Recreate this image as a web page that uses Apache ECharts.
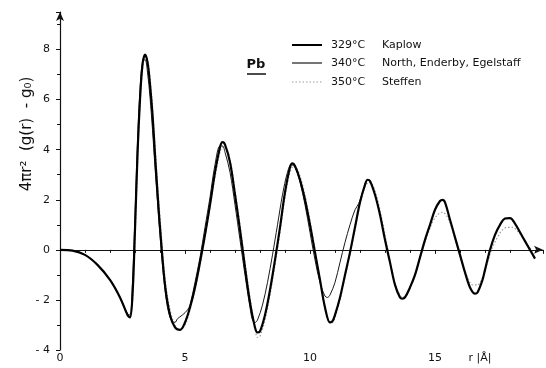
<!DOCTYPE html>
<html>
<head>
<meta charset="utf-8">
<script src="https://cdn.jsdelivr.net/npm/echarts@6/dist/echarts.min.js"></script>
<style>
html,body{margin:0;padding:0;background:#fff;}
#c{width:546px;height:368px;}
</style>
</head>
<body>
<div id="c"></div>
<script>
// ---- data ----
const seriesTemps = ['329°C', '340°C', '350°C'];
const seriesAuthors = ['Kaplow', 'North, Enderby, Egelstaff', 'Steffen'];

const kaplowR = [0,0.5,1.0,1.5,2.0,2.4,2.7,2.8,2.9,3.0,3.1,3.2,3.3,3.4,3.5,3.6,3.7,3.8,3.9,4.0,4.2,4.4,4.6,4.8,5.0,5.2,5.4,5.6,5.8,6.0,6.2,6.4,6.5,6.6,6.8,7.0,7.2,7.4,7.6,7.8,7.9,8.0,8.2,8.4,8.6,8.8,9.0,9.2,9.3,9.4,9.6,9.8,10.0,10.2,10.4,10.6,10.8,10.9,11.0,11.2,11.4,11.6,11.8,12.0,12.2,12.3,12.4,12.6,12.8,13.0,13.2,13.4,13.6,13.7,13.8,14.0,14.2,14.4,14.6,14.8,15.0,15.2,15.3,15.4,15.6,15.8,16.0,16.2,16.4,16.6,16.7,16.9,17.0,17.2,17.4,17.6,17.8,18.0,18.2,18.4,18.6,18.8,19.0];
const kaplowG = [0,-0.03,-0.2,-0.6,-1.2,-1.9,-2.6,-2.7,-1.8,0.8,3.8,6.0,7.4,7.8,7.5,6.6,5.4,3.8,2.3,0.9,-1.4,-2.6,-3.1,-3.2,-2.9,-2.3,-1.5,-0.5,0.6,1.8,3.1,4.1,4.3,4.2,3.5,2.2,0.8,-0.7,-2.1,-3.1,-3.3,-3.25,-2.6,-1.6,-0.4,0.9,2.3,3.3,3.45,3.35,2.8,2.0,1.0,-0.1,-1.2,-2.3,-2.9,-2.85,-2.6,-1.9,-1.0,-0.1,0.9,1.9,2.6,2.8,2.75,2.2,1.4,0.4,-0.5,-1.4,-1.9,-1.95,-1.9,-1.5,-1.0,-0.3,0.4,1.0,1.6,1.95,2.0,1.9,1.2,0.5,-0.2,-0.9,-1.5,-1.75,-1.7,-1.2,-0.8,0.0,0.6,1.0,1.25,1.27,1.05,0.7,0.35,0.0,-0.35];

const northR = [0,0.5,1.0,1.5,2.0,2.4,2.7,2.8,2.9,3.0,3.1,3.2,3.3,3.4,3.5,3.6,3.7,3.8,3.9,4.0,4.2,4.4,4.6,4.7,4.9,5.1,5.2,5.4,5.6,5.8,6.0,6.2,6.4,6.5,6.6,6.8,7.0,7.2,7.4,7.6,7.7,7.8,7.9,8.1,8.3,8.5,8.7,8.9,9.1,9.25,9.4,9.6,9.8,10.0,10.2,10.4,10.6,10.7,10.8,11.0,11.2,11.4,11.6,11.8,11.95,12.1];
const northG = [0,-0.03,-0.2,-0.6,-1.2,-1.9,-2.55,-2.6,-1.3,1.4,4.3,6.4,7.5,7.6,7.1,6.1,4.8,3.3,1.9,0.6,-1.6,-2.7,-2.9,-2.75,-2.6,-2.4,-2.2,-1.3,-0.3,0.9,2.1,3.4,4.15,4.15,3.9,3.1,1.8,0.4,-1.0,-2.3,-2.8,-2.9,-2.8,-2.2,-1.3,-0.2,1.0,2.2,3.1,3.4,3.3,2.7,1.8,0.7,-0.4,-1.3,-1.85,-1.9,-1.8,-1.3,-0.5,0.3,1.0,1.6,1.85,2.3];

const steffenR = [0,0.5,1.0,1.5,2.0,2.4,2.7,2.8,2.9,3.0,3.1,3.2,3.3,3.4,3.5,3.6,3.7,3.8,3.9,4.0,4.2,4.4,4.6,4.8,5.0,5.2,5.4,5.6,5.8,6.0,6.2,6.4,6.5,6.6,6.8,7.0,7.2,7.4,7.6,7.8,7.9,8.0,8.2,8.4,8.6,8.8,9.0,9.2,9.35,9.5,9.7,9.9,10.1,10.3,10.5,10.7,10.85,11.0,11.2,11.4,11.6,11.8,12.0,12.2,12.35,12.5,12.7,12.9,13.1,13.3,13.5,13.7,13.9,14.1,14.3,14.5,14.7,14.9,15.1,15.3,15.5,15.7,15.9,16.1,16.3,16.5,16.7,16.9,17.1,17.3,17.5,17.7,17.9,18.1,18.3,18.5,18.7,18.9,19.0];
const steffenG = [0,-0.03,-0.2,-0.6,-1.2,-1.9,-2.6,-2.7,-2.0,0.4,3.4,5.7,7.2,7.7,7.6,6.9,5.7,4.2,2.7,1.3,-1.1,-2.4,-3.0,-3.2,-3.0,-2.4,-1.6,-0.6,0.5,1.7,2.9,3.9,4.1,4.1,3.6,2.4,1.0,-0.5,-1.9,-3.1,-3.5,-3.45,-2.8,-1.8,-0.6,0.7,2.1,3.1,3.35,3.2,2.6,1.7,0.6,-0.6,-1.8,-2.7,-2.95,-2.7,-2.0,-1.1,-0.2,0.8,1.8,2.5,2.7,2.6,2.0,1.1,0.1,-0.9,-1.6,-1.9,-1.75,-1.3,-0.7,0.0,0.6,1.1,1.4,1.5,1.3,0.8,0.1,-0.6,-1.1,-1.4,-1.4,-1.1,-0.5,0.1,0.5,0.8,0.9,0.9,0.75,0.5,0.2,-0.1,-0.3];

const xTicks = [0, 5, 10, 15];
const yTicks = [-4, -2, 0, 2, 4, 6, 8];
const xAxisTitle = 'r |Å|';
const yAxisTitle = '4πr²  (g(r)  - g₀)';
const elementLabel = 'Pb';

// ---- build ----
function pairs(r, g) { return r.map((v, i) => [v, g[i]]); }

const chart = echarts.init(document.getElementById('c'), null, {renderer: 'canvas'});
const font = 'DejaVu Sans';
const axisCommon = {
  axisLine: {show: true, lineStyle: {color: '#111', width: 1.2}, symbol: ['none', 'arrow'], symbolSize: [6, 9]},
  axisTick: {show: true, length: 4, lineStyle: {color: '#111'}},
  splitLine: {show: false},
  axisLabel: {color: '#111', fontFamily: font, fontSize: 11, showMaxLabel: false}
};

const styles = [
  {color: '#000', width: 2.2, type: 'solid'},
  {color: '#1a1a1a', width: 1, type: 'solid'},
  {color: '#9a9a9a', width: 1.2, type: [1.5, 2]}
];

const legendGraphics = [];
const rowsY = [45, 63, 82];
for (let i = 0; i < 3; i++) {
  legendGraphics.push({type: 'line', shape: {x1: 292, y1: rowsY[i], x2: 322, y2: rowsY[i]},
    style: {stroke: styles[i].color, lineWidth: i === 0 ? 2 : (i === 1 ? 1.2 : 1), lineDash: i === 2 ? [1.5, 2] : null}});
  legendGraphics.push({type: 'text', x: 331, y: rowsY[i],
    style: {text: seriesTemps[i], fill: '#111', font: '11px "DejaVu Sans"', align: 'left', verticalAlign: 'middle'}});
  legendGraphics.push({type: 'text', x: 382, y: rowsY[i],
    style: {text: seriesAuthors[i], fill: '#111', font: '11px "DejaVu Sans"', align: 'left', verticalAlign: 'middle'}});
}

chart.setOption({
  animation: false,
  backgroundColor: '#fff',
  grid: {left: 60, right: 3, top: 12, bottom: 18, containLabel: false},
  xAxis: Object.assign({}, axisCommon, {
    type: 'value', min: 0, max: 19.32, interval: 5,
    minorTick: {show: true, splitNumber: 5, length: 3, lineStyle: {color: '#111'}},
    axisLabel: Object.assign({}, axisCommon.axisLabel, {margin: 3,
      formatter: v => xTicks.includes(v) ? String(v) : ''})
  }),
  yAxis: Object.assign({}, axisCommon, {
    type: 'value', min: -4, max: 9.5, interval: 2,
    minorTick: {show: true, splitNumber: 2, length: 3, lineStyle: {color: '#111'}},
    axisLabel: Object.assign({}, axisCommon.axisLabel, {margin: 10,
      formatter: v => yTicks.includes(v) ? (v < 0 ? '- ' + Math.abs(v) : String(v)) : ''})
  }),
  series: [
    {name: seriesAuthors[2], type: 'line', data: pairs(steffenR, steffenG), smooth: 0.35, symbol: 'none',
     lineStyle: styles[2], z: 1},
    {name: seriesAuthors[1], type: 'line', data: pairs(northR, northG), smooth: 0.35, symbol: 'none',
     lineStyle: styles[1], z: 2},
    {name: seriesAuthors[0], type: 'line', data: pairs(kaplowR, kaplowG), smooth: 0.35, symbol: 'none',
     lineStyle: styles[0], z: 3}
  ],
  graphic: [
    {type: 'text', x: 27, y: 134, rotation: Math.PI / 2,
     style: {text: yAxisTitle, fill: '#111', font: '15px "DejaVu Sans"', align: 'center', verticalAlign: 'middle'}},
    {type: 'text', x: 480, y: 358,
     style: {text: xAxisTitle, fill: '#111', font: '11px "DejaVu Sans"', align: 'center', verticalAlign: 'middle'}},
    {type: 'text', x: 256, y: 65,
     style: {text: elementLabel, fill: '#111', font: 'bold 13px "DejaVu Sans"', align: 'center', verticalAlign: 'middle'}},
    {type: 'line', shape: {x1: 247, y1: 74, x2: 266, y2: 74}, style: {stroke: '#111', lineWidth: 1.5}}
  ].concat(legendGraphics)
});
</script>
</body>
</html>
